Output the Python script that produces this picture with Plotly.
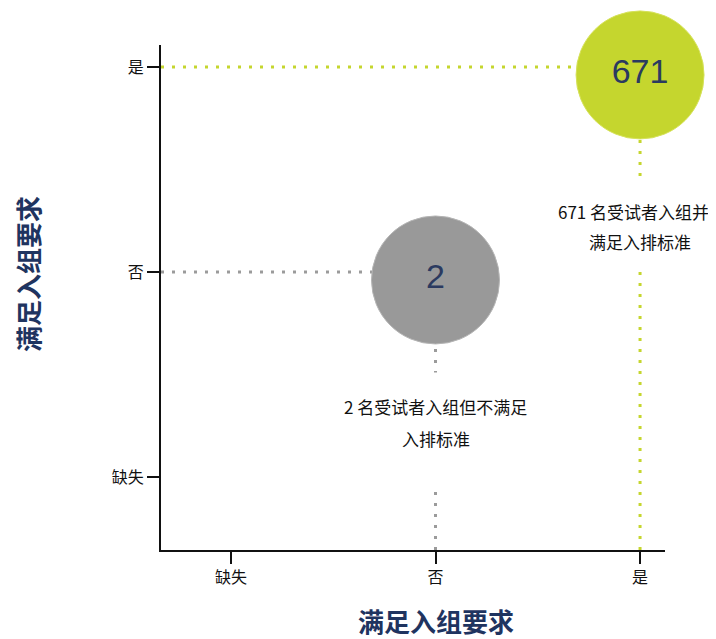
import plotly.graph_objects as go

categories = ["缺失", "否", "是"]
bubble_x = ["是", "否"]
bubble_y = ["是", "否"]
bubble_counts = [671, 2]
bubble_colors = ["#c5d62e", "#999999"]
line_colors = ["#c5d62e", "#9b9b9b"]
label_lines = [["671 名受试者入组并", "满足入排标准"], ["2 名受试者入组但不满足", "入排标准"]]
axis_title = "满足入组要求"

FONT = "Noto Sans CJK SC, Noto Sans, sans-serif"
idx = {c: i for i, c in enumerate(categories)}
xr = [-0.342, 2.122]
yr = [-0.356, 2.107]
bubble_offset = 0.039  # bubbles sit slightly below their guide line in the original

fig = go.Figure()

# dotted guide lines (drawn first, below bubbles)
for bx, by, lc in zip(bubble_x, bubble_y, line_colors):
    xi, yi = idx[bx], idx[by]
    fig.add_trace(go.Scatter(x=[xr[0], xi], y=[yi, yi], mode="lines",
                             line=dict(color=lc, width=3, dash="3px,8px"),
                             hoverinfo="skip", showlegend=False, cliponaxis=False))
    fig.add_trace(go.Scatter(x=[xi, xi], y=[yr[0], yi], mode="lines",
                             line=dict(color=lc, width=3, dash="3px,8px"),
                             hoverinfo="skip", showlegend=False, cliponaxis=False))

fig.add_trace(go.Scatter(
    x=[idx[v] for v in bubble_x], y=[idx[v] for v in bubble_y], yaxis="y2",
    mode="markers+text", text=[str(c) for c in bubble_counts],
    textposition="middle center",
    textfont=dict(family="Liberation Sans, Arial, sans-serif", size=34, color="#2b3a60"),
    marker=dict(size=128, color=bubble_colors, opacity=1,
                line=dict(color=["#d6e25a", "#b5b5b5"], width=1)),
    hoverinfo="skip", showlegend=False, cliponaxis=False))

# label annotations with white gap covers
gap_heights = [85, 112]
gap_shifts = [-155, -158]
line_shifts = [[-145, -175], [-135, -167]]
line_xshifts = [[-7, 0], [0, 0]]
for k, (bx, by) in enumerate(zip(bubble_x, bubble_y)):
    xi, yi = idx[bx], idx[by]
    fig.add_annotation(x=xi, y=yi, xref="x", yref="y", text=" ", showarrow=False,
                       width=16, height=gap_heights[k], bgcolor="white",
                       yshift=gap_shifts[k])
    for t, ys, xs in zip(label_lines[k], line_shifts[k], line_xshifts[k]):
        fig.add_annotation(x=xi, y=yi, xref="x", yref="y", text=t, showarrow=False,
                           font=dict(family=FONT, size=17, color="#111111"),
                           bgcolor="rgba(0,0,0,0)", yshift=ys, xshift=xs)

# axis titles
title_font = dict(family=FONT, size=26, color="#1f3460")
fig.add_annotation(x=idx["否"], y=0, xref="x", yref="paper", text=f"<b>{axis_title}</b>",
                   showarrow=False, yanchor="middle", xanchor="center", yshift=-70,
                   font=title_font)
fig.add_annotation(x=0, y=idx["否"], xref="paper", yref="y", text=f"<b>{axis_title}</b>",
                   showarrow=False, textangle=-90, xanchor="center", yanchor="middle",
                   xshift=-133, yshift=-2, font=title_font)

axis_common = dict(
    tickmode="array", tickvals=[0, 1, 2], ticktext=categories,
    showgrid=False, zeroline=False, showline=True, linecolor="#111111", linewidth=2,
    ticks="outside", ticklen=12, tickwidth=2, tickcolor="#111111",
    tickfont=dict(family=FONT, size=16, color="#111111"),
    fixedrange=True, automargin=False,
)
fig.update_xaxes(range=xr, **axis_common)
fig.update_yaxes(range=yr, **axis_common)

fig.update_layout(
    width=708, height=631,
    margin=dict(l=153, r=51, t=37, b=89, autoexpand=False),
    plot_bgcolor="white", paper_bgcolor="white",
    font=dict(family=FONT),
    yaxis2=dict(overlaying="y", range=[yr[0] + bubble_offset, yr[1] + bubble_offset],
                visible=False, fixedrange=True),
)

fig.write_html("out.html")
